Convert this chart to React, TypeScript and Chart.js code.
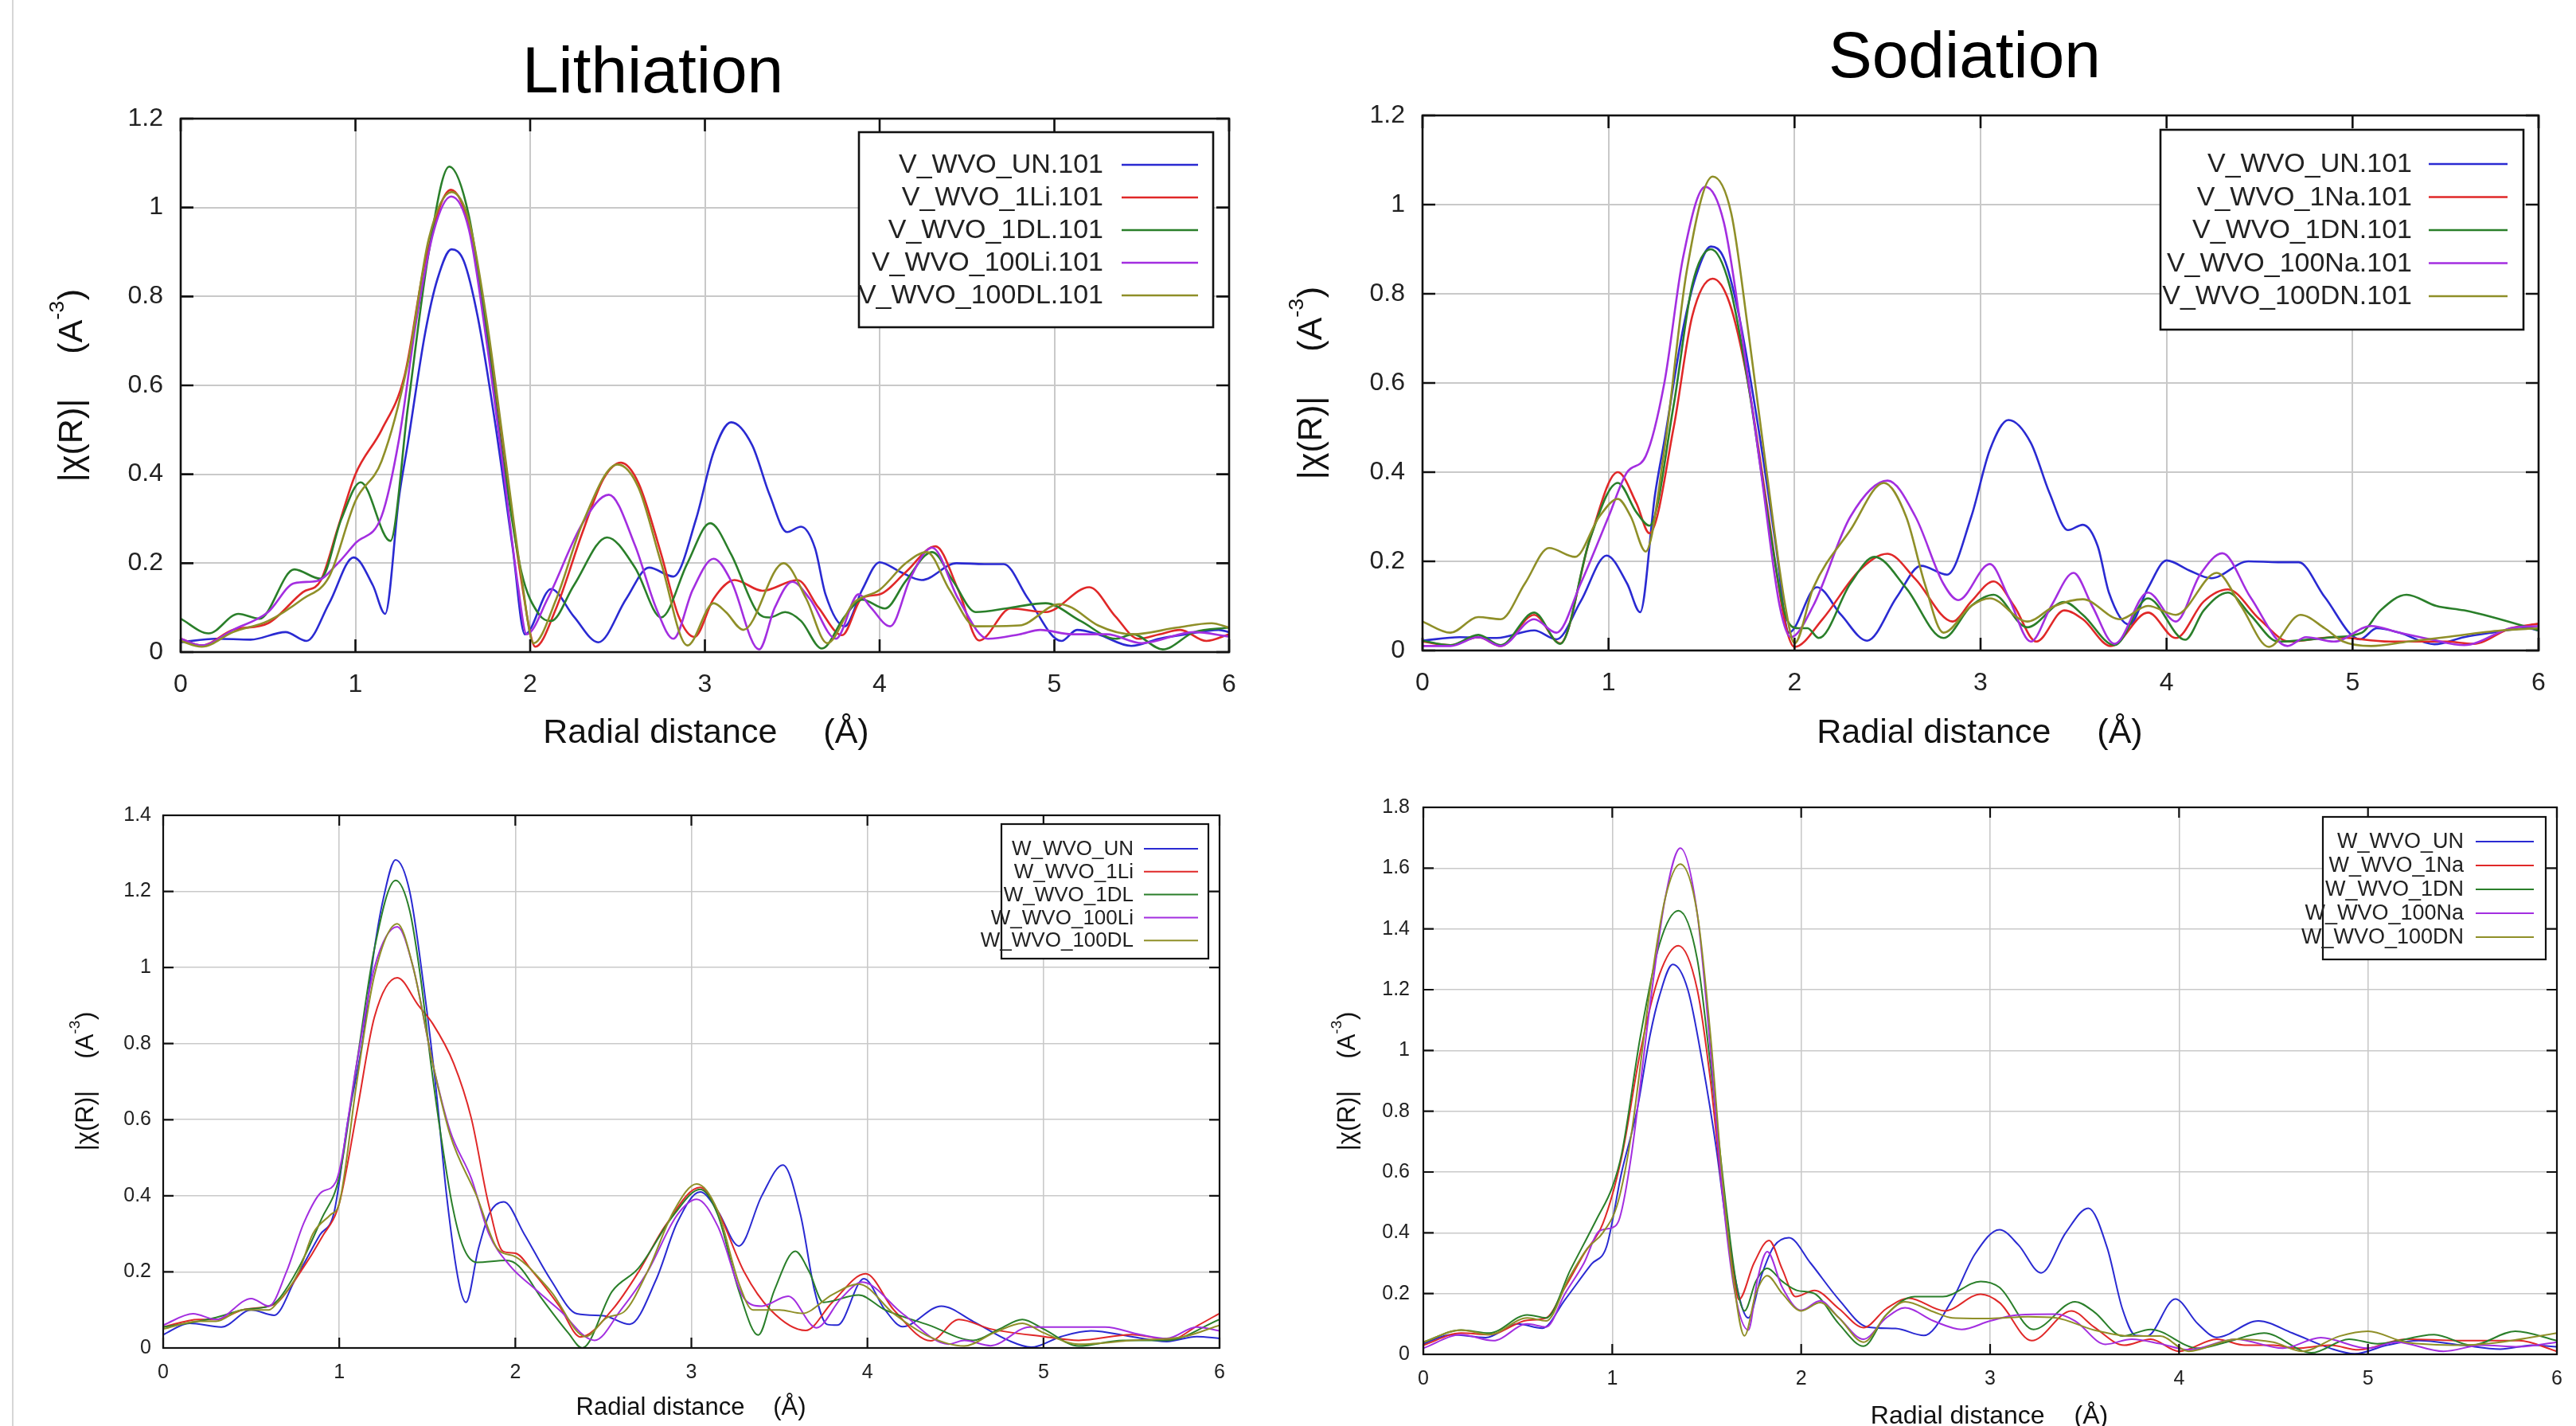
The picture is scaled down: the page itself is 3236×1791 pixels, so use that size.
import React, { useEffect, useRef } from 'react';
import { Chart, registerables } from 'chart.js';

Chart.register(...registerables);

type P = [number, number][];

// ---------- tick labels ----------
const X_TICKS = [0, 1, 2, 3, 4, 5, 6];
const Y_TICKS_V = [0, 0.2, 0.4, 0.6, 0.8, 1.0, 1.2];
const Y_TICKS_W_LI = [0, 0.2, 0.4, 0.6, 0.8, 1.0, 1.2, 1.4];
const Y_TICKS_W_NA = [0, 0.2, 0.4, 0.6, 0.8, 1.0, 1.2, 1.4, 1.6, 1.8];

// ---------- legend labels ----------
const LABELS_V_LI = ['V_WVO_UN.101', 'V_WVO_1Li.101', 'V_WVO_1DL.101', 'V_WVO_100Li.101', 'V_WVO_100DL.101'];
const LABELS_V_NA = ['V_WVO_UN.101', 'V_WVO_1Na.101', 'V_WVO_1DN.101', 'V_WVO_100Na.101', 'V_WVO_100DN.101'];
const LABELS_W_LI = ['W_WVO_UN', 'W_WVO_1Li', 'W_WVO_1DL', 'W_WVO_100Li', 'W_WVO_100DL'];
const LABELS_W_NA = ['W_WVO_UN', 'W_WVO_1Na', 'W_WVO_1DN', 'W_WVO_100Na', 'W_WVO_100DN'];

const COLORS = ['#2a2ad2', '#e02828', '#2a7f2a', '#a32ee0', '#8f8f28'];

// ---------- V K-edge series (R, |chi(R)|) ----------
const V_UN: P = [[0,0.022],[0.2,0.03],[0.4,0.028],[0.6,0.045],[0.72,0.025],[0.85,0.11],[0.99,0.213],[1.1,0.15],[1.17,0.086],[1.25,0.35],[1.3,0.47],[1.4,0.72],[1.47,0.84],[1.55,0.906],[1.62,0.88],[1.7,0.754],[1.8,0.514],[1.9,0.234],[1.97,0.04],[2.12,0.142],[2.25,0.08],[2.39,0.022],[2.55,0.12],[2.68,0.19],[2.82,0.17],[2.95,0.3],[3.05,0.45],[3.15,0.517],[3.27,0.466],[3.37,0.354],[3.47,0.27],[3.55,0.282],[3.63,0.234],[3.69,0.13],[3.8,0.058],[3.9,0.14],[4.0,0.202],[4.12,0.18],[4.24,0.162],[4.44,0.2],[4.6,0.198],[4.71,0.198],[4.85,0.12],[5.04,0.025],[5.13,0.05],[5.25,0.04],[5.44,0.014],[5.6,0.03],[5.75,0.04],[5.94,0.05],[6,0.045]];
const V_1LI: P = [[0,0.03],[0.12,0.015],[0.3,0.05],[0.5,0.065],[0.7,0.135],[0.8,0.16],[0.9,0.28],[1.0,0.4],[1.15,0.5],[1.28,0.62],[1.4,0.88],[1.546,1.04],[1.65,0.96],[1.75,0.74],[1.85,0.45],[1.95,0.16],[2.03,0.012],[2.15,0.1],[2.3,0.27],[2.42,0.39],[2.52,0.426],[2.62,0.38],[2.75,0.22],[2.85,0.08],[2.94,0.034],[3.05,0.12],[3.17,0.162],[3.33,0.138],[3.53,0.162],[3.65,0.1],[3.785,0.038],[3.9,0.122],[4.0,0.13],[4.15,0.18],[4.32,0.238],[4.45,0.14],[4.57,0.026],[4.75,0.098],[4.95,0.09],[5.2,0.146],[5.35,0.08],[5.48,0.03],[5.6,0.04],[5.72,0.05],[5.87,0.025],[6,0.04]];
const V_1DL: P = [[0,0.075],[0.16,0.042],[0.33,0.086],[0.45,0.075],[0.65,0.186],[0.8,0.165],[0.92,0.3],[1.03,0.382],[1.2,0.25],[1.3,0.55],[1.42,0.9],[1.537,1.092],[1.65,0.98],[1.75,0.72],[1.85,0.42],[1.95,0.18],[2.05,0.085],[2.12,0.07],[2.25,0.15],[2.44,0.258],[2.6,0.19],[2.75,0.078],[2.9,0.2],[3.03,0.29],[3.15,0.22],[3.3,0.09],[3.37,0.078],[3.46,0.09],[3.55,0.07],[3.67,0.008],[3.8,0.08],[3.9,0.118],[4.03,0.098],[4.15,0.16],[4.3,0.225],[4.42,0.16],[4.55,0.09],[4.75,0.1],[4.95,0.11],[5.15,0.07],[5.35,0.03],[5.45,0.04],[5.62,0.006],[5.8,0.045],[6,0.055]];
const V_100LI: P = [[0,0.03],[0.12,0.015],[0.3,0.05],[0.5,0.09],[0.65,0.155],[0.78,0.16],[0.9,0.2],[1.0,0.245],[1.15,0.306],[1.25,0.48],[1.35,0.75],[1.45,0.95],[1.548,1.025],[1.65,0.95],[1.75,0.7],[1.85,0.4],[1.93,0.15],[1.98,0.04],[2.1,0.12],[2.3,0.29],[2.45,0.354],[2.6,0.24],[2.72,0.1],[2.82,0.03],[2.93,0.14],[3.05,0.21],[3.15,0.16],[3.31,0.006],[3.4,0.1],[3.5,0.158],[3.6,0.12],[3.75,0.03],[3.88,0.13],[3.95,0.1],[4.06,0.058],[4.18,0.17],[4.3,0.235],[4.45,0.12],[4.62,0.03],[4.8,0.04],[4.92,0.05],[5.1,0.04],[5.3,0.04],[5.5,0.02],[5.8,0.045],[6,0.035]];
const V_100DL: P = [[0,0.025],[0.12,0.012],[0.3,0.045],[0.5,0.07],[0.7,0.12],[0.85,0.17],[1.0,0.34],[1.15,0.43],[1.3,0.65],[1.42,0.93],[1.55,1.035],[1.65,0.97],[1.75,0.75],[1.85,0.46],[1.95,0.17],[2.02,0.02],[2.15,0.12],[2.3,0.29],[2.5,0.422],[2.62,0.37],[2.75,0.2],[2.9,0.015],[3.05,0.11],[3.12,0.09],[3.22,0.05],[3.45,0.2],[3.58,0.12],[3.7,0.02],[3.85,0.11],[4.0,0.14],[4.15,0.2],[4.27,0.225],[4.4,0.14],[4.55,0.058],[4.8,0.06],[5.03,0.108],[5.1,0.1],[5.25,0.06],[5.45,0.04],[5.7,0.055],[5.9,0.065],[6,0.055]];
const V_1NA: P = [[0,0.02],[0.15,0.012],[0.3,0.03],[0.42,0.01],[0.6,0.08],[0.74,0.016],[0.9,0.25],[1.05,0.4],[1.15,0.33],[1.22,0.263],[1.35,0.5],[1.45,0.75],[1.56,0.834],[1.65,0.78],[1.75,0.6],[1.85,0.33],[1.95,0.06],[2.0,0.008],[2.15,0.07],[2.35,0.18],[2.5,0.217],[2.65,0.16],[2.85,0.065],[2.95,0.11],[3.07,0.155],[3.18,0.1],[3.3,0.02],[3.45,0.09],[3.55,0.07],[3.7,0.01],[3.9,0.085],[4.05,0.028],[4.2,0.11],[4.33,0.137],[4.5,0.07],[4.66,0.02],[4.9,0.03],[5.2,0.02],[5.5,0.02],[5.65,0.015],[5.85,0.05],[6,0.06]];
const V_1DN: P = [[0,0.022],[0.15,0.012],[0.3,0.035],[0.42,0.012],[0.6,0.085],[0.74,0.015],[0.9,0.25],[1.05,0.376],[1.15,0.31],[1.22,0.28],[1.35,0.55],[1.45,0.82],[1.55,0.9],[1.65,0.82],[1.75,0.6],[1.85,0.32],[1.95,0.08],[2.02,0.05],[2.07,0.05],[2.13,0.028],[2.3,0.15],[2.43,0.21],[2.6,0.14],[2.8,0.028],[2.95,0.1],[3.07,0.125],[3.25,0.052],[3.45,0.109],[3.55,0.08],[3.72,0.012],[3.9,0.117],[4.1,0.024],[4.2,0.09],[4.33,0.13],[4.45,0.08],[4.6,0.02],[4.9,0.03],[5.05,0.04],[5.15,0.09],[5.29,0.125],[5.45,0.1],[5.6,0.09],[5.75,0.075],[6,0.045]];
const V_100NA: P = [[0,0.01],[0.15,0.01],[0.3,0.03],[0.42,0.01],[0.6,0.07],[0.72,0.04],[0.85,0.15],[1.0,0.3],[1.1,0.4],[1.2,0.436],[1.3,0.6],[1.4,0.88],[1.52,1.04],[1.62,0.96],[1.72,0.7],[1.82,0.4],[1.92,0.1],[1.98,0.03],[2.1,0.1],[2.3,0.3],[2.5,0.381],[2.65,0.3],[2.8,0.15],[2.88,0.113],[3.05,0.194],[3.15,0.12],[3.27,0.02],[3.38,0.1],[3.5,0.174],[3.6,0.1],[3.72,0.015],[3.9,0.13],[4.05,0.065],[4.18,0.17],[4.3,0.218],[4.45,0.12],[4.65,0.01],[4.75,0.03],[4.9,0.02],[5.1,0.055],[5.25,0.04],[5.42,0.025],[5.6,0.012],[5.85,0.05],[6,0.055]];
const V_100DN: P = [[0,0.065],[0.15,0.04],[0.3,0.075],[0.42,0.07],[0.55,0.15],[0.68,0.23],[0.82,0.21],[0.95,0.3],[1.05,0.34],[1.12,0.3],[1.2,0.222],[1.3,0.45],[1.42,0.85],[1.56,1.063],[1.66,0.98],[1.75,0.72],[1.85,0.4],[1.95,0.1],[2.0,0.016],[2.1,0.14],[2.3,0.27],[2.48,0.376],[2.6,0.3],[2.7,0.15],[2.8,0.04],[2.95,0.1],[3.05,0.117],[3.25,0.065],[3.4,0.1],[3.55,0.115],[3.75,0.07],[3.9,0.1],[4.05,0.08],[4.27,0.174],[4.4,0.1],[4.55,0.008],[4.72,0.08],[4.85,0.05],[4.95,0.02],[5.1,0.01],[5.3,0.02],[5.5,0.03],[5.8,0.045],[6,0.05]];

// ---------- W edge series ----------
const W_UN: P = [[0,0.035],[0.15,0.065],[0.33,0.055],[0.5,0.1],[0.63,0.086],[0.75,0.18],[0.89,0.297],[0.97,0.355],[1.05,0.6],[1.13,0.8],[1.2,1.05],[1.25,1.18],[1.32,1.283],[1.4,1.2],[1.48,0.95],[1.55,0.68],[1.61,0.4],[1.68,0.17],[1.72,0.12],[1.79,0.26],[1.855,0.355],[1.935,0.384],[2.05,0.3],[2.2,0.18],[2.35,0.09],[2.5,0.085],[2.65,0.062],[2.8,0.18],[2.92,0.33],[3.05,0.41],[3.15,0.36],[3.27,0.268],[3.4,0.4],[3.52,0.481],[3.62,0.35],[3.7,0.15],[3.77,0.062],[3.83,0.06],[3.98,0.182],[4.1,0.1],[4.2,0.056],[4.42,0.11],[4.6,0.07],[4.8,0.02],[4.93,0.002],[5.1,0.03],[5.27,0.045],[5.5,0.03],[5.7,0.017],[5.87,0.03],[6,0.025]];
const W_1LI: P = [[0,0.055],[0.2,0.075],[0.3,0.075],[0.45,0.1],[0.6,0.11],[0.65,0.12],[0.78,0.2],[0.9,0.29],[1.0,0.38],[1.1,0.62],[1.2,0.87],[1.33,0.973],[1.45,0.9],[1.53,0.853],[1.65,0.748],[1.75,0.604],[1.85,0.374],[1.93,0.254],[2.0,0.249],[2.1,0.2],[2.25,0.11],[2.37,0.029],[2.55,0.1],[2.7,0.2],[2.85,0.32],[3.05,0.422],[3.15,0.36],[3.3,0.2],[3.45,0.1],[3.65,0.046],[3.8,0.12],[3.99,0.195],[4.15,0.1],[4.36,0.019],[4.52,0.075],[4.7,0.05],[5.0,0.03],[5.2,0.02],[5.5,0.035],[5.72,0.022],[5.88,0.06],[6,0.091]];
const W_1DL: P = [[0,0.055],[0.2,0.07],[0.3,0.08],[0.45,0.1],[0.6,0.11],[0.65,0.125],[0.78,0.22],[0.9,0.34],[1.0,0.45],[1.1,0.75],[1.2,1.05],[1.32,1.229],[1.4,1.15],[1.46,0.98],[1.52,0.75],[1.58,0.55],[1.64,0.38],[1.7,0.27],[1.78,0.225],[1.95,0.23],[2.02,0.215],[2.15,0.13],[2.3,0.04],[2.38,0.0],[2.55,0.149],[2.7,0.21],[2.9,0.35],[3.05,0.417],[3.15,0.35],[3.27,0.15],[3.38,0.034],[3.47,0.15],[3.59,0.254],[3.67,0.2],[3.75,0.12],[3.95,0.139],[4.1,0.1],[4.35,0.06],[4.6,0.02],[4.75,0.05],[4.88,0.075],[5.0,0.05],[5.2,0.005],[5.45,0.02],[5.7,0.02],[6,0.075]];
const W_100LI: P = [[0,0.06],[0.17,0.09],[0.3,0.075],[0.5,0.13],[0.6,0.11],[0.7,0.2],[0.8,0.33],[0.9,0.41],[0.98,0.436],[1.1,0.75],[1.2,1.0],[1.33,1.107],[1.42,1.0],[1.53,0.75],[1.63,0.57],[1.75,0.446],[1.85,0.3],[1.97,0.216],[2.1,0.16],[2.25,0.1],[2.45,0.02],[2.6,0.1],[2.75,0.2],[2.92,0.35],[3.03,0.391],[3.15,0.32],[3.3,0.13],[3.4,0.11],[3.55,0.136],[3.71,0.053],[3.85,0.13],[3.97,0.173],[4.2,0.09],[4.46,0.01],[4.55,0.02],[4.7,0.006],[4.92,0.055],[5.35,0.055],[5.55,0.035],[5.7,0.025],[5.87,0.055],[6,0.045]];
const W_100DL: P = [[0,0.05],[0.2,0.07],[0.3,0.07],[0.45,0.1],[0.6,0.1],[0.65,0.12],[0.77,0.2],[0.85,0.3],[0.95,0.35],[1.0,0.38],[1.1,0.7],[1.2,0.98],[1.33,1.115],[1.42,1.0],[1.53,0.75],[1.63,0.56],[1.78,0.4],[1.9,0.26],[2.0,0.24],[2.2,0.15],[2.4,0.03],[2.52,0.08],[2.62,0.096],[2.75,0.2],[2.9,0.36],[3.03,0.431],[3.15,0.36],[3.27,0.17],[3.35,0.1],[3.5,0.1],[3.63,0.091],[3.8,0.14],[3.95,0.168],[4.15,0.09],[4.35,0.03],[4.55,0.005],[4.72,0.04],[4.88,0.065],[5.0,0.04],[5.2,0.01],[5.5,0.02],[5.8,0.03],[6,0.06]];
const W_1NA: P = [[0,0.03],[0.2,0.07],[0.35,0.065],[0.55,0.112],[0.65,0.12],[0.75,0.22],[0.85,0.33],[0.95,0.43],[1.05,0.65],[1.15,1.0],[1.25,1.25],[1.35,1.345],[1.45,1.2],[1.52,0.9],[1.58,0.55],[1.64,0.28],[1.67,0.18],[1.75,0.3],[1.83,0.375],[1.9,0.28],[1.97,0.19],[2.07,0.21],[2.2,0.15],[2.33,0.088],[2.45,0.15],[2.57,0.185],[2.76,0.143],[2.95,0.198],[3.05,0.17],[3.22,0.045],[3.43,0.143],[3.55,0.09],[3.71,0.03],[3.85,0.05],[4.0,0.01],[4.2,0.05],[4.35,0.03],[4.5,0.03],[4.62,0.02],[4.8,0.03],[4.95,0.015],[5.2,0.05],[5.5,0.045],[5.8,0.045],[6,0.01]];
const W_1DN: P = [[0,0.04],[0.2,0.08],[0.35,0.07],[0.55,0.13],[0.65,0.12],[0.78,0.28],[0.92,0.448],[1.0,0.55],[1.05,0.66],[1.15,1.05],[1.25,1.35],[1.35,1.46],[1.45,1.3],[1.52,0.95],[1.6,0.5],[1.66,0.22],[1.7,0.143],[1.76,0.24],[1.82,0.283],[1.9,0.24],[1.98,0.21],[2.07,0.2],[2.2,0.1],[2.33,0.027],[2.45,0.13],[2.6,0.19],[2.75,0.19],[2.95,0.24],[3.05,0.22],[3.23,0.082],[3.45,0.173],[3.55,0.14],[3.7,0.06],[3.85,0.082],[4.1,0.02],[4.25,0.04],[4.45,0.07],[4.7,0.005],[4.9,0.05],[5.05,0.035],[5.35,0.065],[5.55,0.03],[5.78,0.076],[6,0.045]];
const W_100NA: P = [[0,0.02],[0.2,0.065],[0.37,0.045],[0.55,0.1],[0.65,0.09],[0.75,0.2],[0.85,0.3],[0.93,0.405],[1.0,0.417],[1.04,0.45],[1.1,0.65],[1.2,1.15],[1.28,1.5],[1.36,1.666],[1.45,1.45],[1.52,1.0],[1.58,0.55],[1.65,0.2],[1.72,0.08],[1.77,0.25],[1.82,0.338],[1.9,0.22],[2.0,0.145],[2.1,0.176],[2.2,0.12],[2.33,0.05],[2.45,0.12],[2.55,0.153],[2.7,0.11],[2.85,0.082],[3.0,0.11],[3.15,0.13],[3.35,0.132],[3.45,0.11],[3.61,0.033],[3.75,0.05],[3.9,0.035],[4.05,0.015],[4.3,0.05],[4.55,0.02],[4.75,0.055],[5.0,0.02],[5.15,0.04],[5.4,0.01],[5.6,0.03],[5.8,0.025],[6,0.04]];
const W_100DN: P = [[0,0.04],[0.2,0.08],[0.35,0.065],[0.55,0.12],[0.65,0.11],[0.77,0.25],[0.87,0.35],[0.95,0.4],[1.03,0.5],[1.1,0.72],[1.2,1.2],[1.28,1.5],[1.36,1.613],[1.45,1.45],[1.52,1.05],[1.58,0.6],[1.64,0.25],[1.7,0.061],[1.76,0.2],[1.82,0.259],[1.9,0.2],[2.0,0.143],[2.1,0.17],[2.2,0.12],[2.33,0.04],[2.45,0.13],[2.55,0.173],[2.7,0.14],[2.8,0.12],[3.0,0.118],[3.2,0.124],[3.35,0.12],[3.55,0.08],[3.75,0.06],[3.9,0.06],[4.05,0.01],[4.3,0.05],[4.5,0.04],[4.65,0.01],[4.85,0.06],[5.0,0.076],[5.2,0.04],[5.5,0.03],[5.7,0.04],[6,0.07]];

const FONT = "'Liberation Sans', Arial, Helvetica, sans-serif";

type Panel = {
  canvas: { x: number; y: number; w: number; h: number };
  area: { l: number; t: number; r: number; b: number };
  yTicks: number[];
  labels: string[];
  series: P[];
  tickFont: number; padX: number; padY: number;
  lineW: number; frameW: number; gridW: number; tickLen: number;
  legend: { l: number; t: number; r: number; b: number; textRight: number; s0: number; s1: number; y0: number; dy: number; font: number };
  xTitle: { cx: number; by: number; font: number; gap: number };
  yTitle: { cx: number; cy: number; font: number; gap: number };
  title?: { text: string; cx: number; by: number; font: number };
};

const SPLIT_X = 1590;

const PANELS: Panel[] = [
  {
    canvas: { x: 0, y: 0, w: SPLIT_X, h: 980 },
    area: { l: 227, t: 149, r: 1544, b: 819 },
    yTicks: Y_TICKS_V, labels: LABELS_V_LI, series: [V_UN, V_1LI, V_1DL, V_100LI, V_100DL],
    tickFont: 32, padX: 22, padY: 22, lineW: 2.6, frameW: 2.6, gridW: 2, tickLen: 16,
    legend: { l: 1079, t: 166, r: 1524, b: 411, textRight: 1386, s0: 1409, s1: 1505, y0: 207, dy: 41, font: 34 },
    xTitle: { cx: 887, by: 933, font: 43, gap: 1.35 },
    yTitle: { cx: 91, cy: 484, font: 43, gap: 1.3 },
    title: { text: 'Lithiation', cx: 820, by: 116, font: 82 },
  },
  {
    canvas: { x: SPLIT_X, y: 0, w: 3236 - SPLIT_X, h: 980 },
    area: { l: 1787, t: 145, r: 3189, b: 817 },
    yTicks: Y_TICKS_V, labels: LABELS_V_NA, series: [V_UN, V_1NA, V_1DN, V_100NA, V_100DN],
    tickFont: 32, padX: 22, padY: 22, lineW: 2.6, frameW: 2.6, gridW: 2, tickLen: 16,
    legend: { l: 2714, t: 163, r: 3170, b: 414, textRight: 3030, s0: 3051, s1: 3150, y0: 206, dy: 41.5, font: 34 },
    xTitle: { cx: 2487, by: 933, font: 43, gap: 1.35 },
    yTitle: { cx: 1648, cy: 481, font: 43, gap: 1.3 },
    title: { text: 'Sodiation', cx: 2468, by: 97, font: 82 },
  },
  {
    canvas: { x: 0, y: 980, w: SPLIT_X, h: 811 },
    area: { l: 205, t: 1024, r: 1532, b: 1693 },
    yTicks: Y_TICKS_W_LI, labels: LABELS_W_LI, series: [W_UN, W_1LI, W_1DL, W_100LI, W_100DL],
    tickFont: 25, padX: 16, padY: 15, lineW: 2, frameW: 2.2, gridW: 1.6, tickLen: 13,
    legend: { l: 1258, t: 1035, r: 1518, b: 1204, textRight: 1424, s0: 1437, s1: 1505, y0: 1066, dy: 28.8, font: 26 },
    xTitle: { cx: 868, by: 1777, font: 31, gap: 1.15 },
    yTitle: { cx: 108, cy: 1358, font: 31, gap: 1.3 },
  },
  {
    canvas: { x: SPLIT_X, y: 980, w: 3236 - SPLIT_X, h: 811 },
    area: { l: 1788, t: 1014, r: 3212, b: 1701 },
    yTicks: Y_TICKS_W_NA, labels: LABELS_W_NA, series: [W_UN, W_1NA, W_1DN, W_100NA, W_100DN],
    tickFont: 25, padX: 16, padY: 17, lineW: 2, frameW: 2.2, gridW: 1.6, tickLen: 13,
    legend: { l: 2918, t: 1026, r: 3198, b: 1205, textRight: 3095, s0: 3110, s1: 3183, y0: 1057, dy: 30, font: 27 },
    xTitle: { cx: 2499, by: 1788, font: 32, gap: 1.15 },
    yTitle: { cx: 1693, cy: 1358, font: 31, gap: 1.3 },
  },
];

const fmt = (v: number) => String(Number(Number(v).toFixed(1)));

function makePlugin(p: Panel) {
  return {
    id: 'gnuFrame',
    afterDraw(chart: any) {
      const ctx: CanvasRenderingContext2D = chart.ctx;
      const a = chart.chartArea;
      const xs = chart.scales.x;
      const ys = chart.scales.y;
      const ox = p.canvas.x;
      const oy = p.canvas.y;
      ctx.save();
      // frame
      ctx.strokeStyle = '#111';
      ctx.lineWidth = p.frameW;
      ctx.strokeRect(a.left, a.top, a.right - a.left, a.bottom - a.top);
      // inward ticks on all four sides
      ctx.beginPath();
      X_TICKS.forEach((v) => {
        const px = xs.getPixelForValue(v);
        ctx.moveTo(px, a.bottom); ctx.lineTo(px, a.bottom - p.tickLen);
        ctx.moveTo(px, a.top); ctx.lineTo(px, a.top + p.tickLen);
      });
      p.yTicks.forEach((v) => {
        const py = ys.getPixelForValue(v);
        ctx.moveTo(a.left, py); ctx.lineTo(a.left + p.tickLen, py);
        ctx.moveTo(a.right, py); ctx.lineTo(a.right - p.tickLen, py);
      });
      ctx.stroke();

      // legend
      const L = p.legend;
      ctx.fillStyle = '#fff';
      ctx.fillRect(L.l - ox, L.t - oy, L.r - L.l, L.b - L.t);
      ctx.strokeStyle = '#111';
      ctx.lineWidth = p.frameW;
      ctx.strokeRect(L.l - ox, L.t - oy, L.r - L.l, L.b - L.t);
      ctx.font = `${L.font}px ${FONT}`;
      ctx.textAlign = 'right';
      ctx.textBaseline = 'middle';
      chart.data.datasets.forEach((ds: any, i: number) => {
        const y = L.y0 + i * L.dy - oy;
        ctx.fillStyle = '#222';
        ctx.fillText(ds.label, L.textRight - ox, y + 1);
        ctx.strokeStyle = ds.borderColor;
        ctx.lineWidth = p.lineW;
        ctx.beginPath();
        ctx.moveTo(L.s0 - ox, y);
        ctx.lineTo(L.s1 - ox, y);
        ctx.stroke();
      });

      // x axis title
      ctx.fillStyle = '#111';
      ctx.textBaseline = 'alphabetic';
      const xf = p.xTitle.font;
      ctx.font = `${xf}px ${FONT}`;
      const t1 = 'Radial distance';
      const t2 = '(Å)';
      const w1 = ctx.measureText(t1).width;
      const w2 = ctx.measureText(t2).width;
      const gx = p.xTitle.gap * xf;
      const startX = p.xTitle.cx - (w1 + gx + w2) / 2 - ox;
      ctx.textAlign = 'left';
      ctx.fillText(t1, startX, p.xTitle.by - oy);
      ctx.fillText(t2, startX + w1 + gx, p.xTitle.by - oy);

      // y axis title (rotated, with superscript)
      const yf = p.yTitle.font;
      ctx.save();
      ctx.translate(p.yTitle.cx - ox, p.yTitle.cy - oy);
      ctx.rotate(-Math.PI / 2);
      ctx.textBaseline = 'middle';
      ctx.textAlign = 'left';
      const segs = [
        { t: '|χ(R)|', s: 1, dy: 0, gapAfter: p.yTitle.gap },
        { t: '(A', s: 1, dy: 0, gapAfter: 0 },
        { t: '-3', s: 0.62, dy: -0.42, gapAfter: 0.02 },
        { t: ')', s: 1, dy: 0, gapAfter: 0 },
      ];
      let total = 0;
      segs.forEach((s) => {
        ctx.font = `${yf * s.s}px ${FONT}`;
        total += ctx.measureText(s.t).width + s.gapAfter * yf;
      });
      let cx = -total / 2;
      segs.forEach((s) => {
        ctx.font = `${yf * s.s}px ${FONT}`;
        ctx.fillText(s.t, cx, s.dy * yf);
        cx += ctx.measureText(s.t).width + s.gapAfter * yf;
      });
      ctx.restore();

      // panel title
      if (p.title) {
        ctx.font = `${p.title.font}px ${FONT}`;
        ctx.textAlign = 'center';
        ctx.textBaseline = 'alphabetic';
        ctx.fillStyle = '#000';
        ctx.fillText(p.title.text, p.title.cx - ox, p.title.by - oy);
      }
      ctx.restore();
    },
  };
}

function PanelChart({ p }: { p: Panel }) {
  const ref = useRef<HTMLCanvasElement | null>(null);
  useEffect(() => {
    if (!ref.current) return;
    const yWidth = p.area.l - p.canvas.x;
    const xHeight = 60;
    const padTop = p.area.t - p.canvas.y;
    const padRight = p.canvas.x + p.canvas.w - p.area.r;
    const padBottom = p.canvas.y + p.canvas.h - p.area.b - xHeight;
    const yMax = p.yTicks[p.yTicks.length - 1];
    const chart = new Chart(ref.current, {
      type: 'line',
      data: {
        datasets: p.series.map((s, i) => ({
          label: p.labels[i],
          data: s.map(([x, y]) => ({ x, y })),
          borderColor: COLORS[i],
          backgroundColor: COLORS[i],
          borderWidth: p.lineW,
          pointRadius: 0,
          pointHoverRadius: 0,
          fill: false,
          cubicInterpolationMode: 'monotone' as const,
          order: 5 - i,
        })),
      },
      options: {
        animation: false,
        responsive: false,
        maintainAspectRatio: false,
        devicePixelRatio: 1,
        events: [],
        layout: { padding: { left: 0, top: padTop, right: padRight, bottom: padBottom } },
        plugins: { legend: { display: false }, tooltip: { enabled: false }, title: { display: false } },
        scales: {
          x: {
            type: 'linear',
            min: 0,
            max: 6,
            afterBuildTicks: (s: any) => { s.ticks = X_TICKS.map((v) => ({ value: v })); },
            afterFit: (s: any) => { s.height = xHeight; },
            ticks: { font: { size: p.tickFont, family: FONT }, color: '#222', padding: p.padX, maxRotation: 0, callback: (v: any) => fmt(v) },
            grid: { color: '#c9c9c9', lineWidth: p.gridW, drawTicks: false },
            border: { display: false },
          },
          y: {
            type: 'linear',
            min: 0,
            max: yMax,
            afterBuildTicks: (s: any) => { s.ticks = p.yTicks.map((v) => ({ value: v })); },
            afterFit: (s: any) => { s.width = yWidth; },
            ticks: { font: { size: p.tickFont, family: FONT }, color: '#222', padding: p.padY, callback: (v: any) => fmt(v) },
            grid: { color: '#c9c9c9', lineWidth: p.gridW, drawTicks: false },
            border: { display: false },
          },
        },
      },
      plugins: [makePlugin(p)],
    } as any);
    return () => chart.destroy();
  }, [p]);
  return (
    <canvas
      ref={ref}
      width={p.canvas.w}
      height={p.canvas.h}
      style={{ position: 'absolute', left: p.canvas.x, top: p.canvas.y, width: p.canvas.w, height: p.canvas.h }}
    />
  );
}

export default function App() {
  useEffect(() => {
    document.body.style.margin = '0';
    document.body.style.overflow = 'hidden';
  }, []);
  return (
    <div style={{ position: 'absolute', left: 0, top: 0, width: 3236, height: 1791, background: '#fff', overflow: 'hidden' }}>
      <div style={{ position: 'absolute', left: 15, top: 0, width: 2, height: 1791, background: '#d6d6d6' }} />
      {PANELS.map((p, i) => (
        <PanelChart key={i} p={p} />
      ))}
    </div>
  );
}
